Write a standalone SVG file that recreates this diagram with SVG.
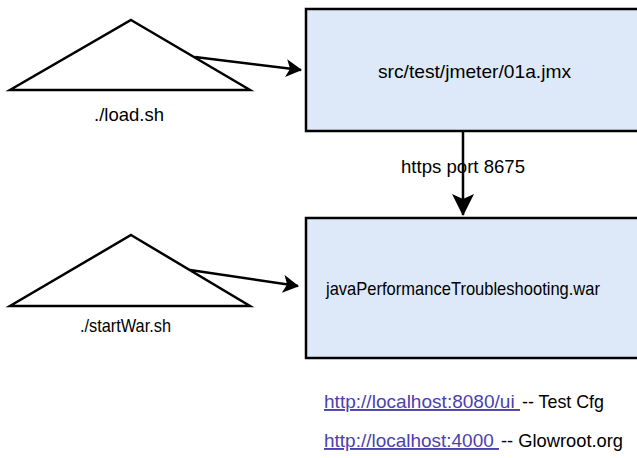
<svg xmlns="http://www.w3.org/2000/svg" width="637" height="458" viewBox="0 0 637 458">
<defs>
<style>
text{font-family:"Liberation Sans",Arial,sans-serif;font-size:19px;fill:#000;white-space:pre}
.box{fill:#dde9f8;stroke:#000;stroke-width:2.5}
.tri{fill:#fff;stroke:#000;stroke-width:2.5}
.edge{fill:none;stroke:#000;stroke-width:2.5}
.link{fill:#4b3fb0;text-decoration:underline}
</style>
<marker id="ah" viewBox="0 0 16 18" refX="15" refY="9" markerWidth="16" markerHeight="18" orient="auto" markerUnits="userSpaceOnUse">
<path d="M0,0 L16,9 L0,18 L4,9 Z" fill="#000"/>
</marker>
<marker id="ahv" viewBox="0 0 22 22" refX="21" refY="11" markerWidth="22" markerHeight="22" orient="auto" markerUnits="userSpaceOnUse">
<path d="M0,0 L22,11 L0,22 L5,11 Z" fill="#000"/>
</marker>
</defs>
<g id="connectors">
<line class="edge" x1="195" y1="57" x2="301" y2="70" marker-end="url(#ah)"/>
<line class="edge" x1="463" y1="131" x2="463" y2="215" stroke-width="3" marker-end="url(#ahv)"/>
<line class="edge" x1="190" y1="270" x2="298" y2="286" marker-end="url(#ah)"/>
</g>
<g id="load">
<polygon class="tri" points="131,20 250,90 10,90"/>
<text x="94" y="121" textLength="70" lengthAdjust="spacingAndGlyphs">./load.sh</text>
</g>
<g id="jmx">
<rect class="box" x="306" y="9" width="334" height="122"/>
<text x="378" y="78" textLength="193" lengthAdjust="spacingAndGlyphs">src/test/jmeter/01a.jmx</text>
</g>
<g id="edge-label">
<text x="401" y="173" textLength="124" lengthAdjust="spacingAndGlyphs">https port 8675</text>
</g>
<g id="war">
<rect class="box" x="306" y="218" width="334" height="140"/>
<text x="326" y="295" font-size="18" textLength="274" lengthAdjust="spacingAndGlyphs">javaPerformanceTroubleshooting.war</text>
</g>
<g id="startwar">
<polygon class="tri" points="131,235 250,306 10,306"/>
<text x="80" y="332" textLength="91" lengthAdjust="spacingAndGlyphs">./startWar.sh</text>
</g>
<g id="links">
<text class="link" x="324" y="408" textLength="196" lengthAdjust="spacingAndGlyphs">http://localhost:8080/ui </text>
<text x="522" y="408" textLength="82" lengthAdjust="spacingAndGlyphs">-- Test Cfg</text>
<text class="link" x="324" y="447" textLength="175" lengthAdjust="spacingAndGlyphs">http://localhost:4000 </text>
<text x="501" y="447" textLength="122" lengthAdjust="spacingAndGlyphs">-- Glowroot.org</text>
</g>
</svg>
